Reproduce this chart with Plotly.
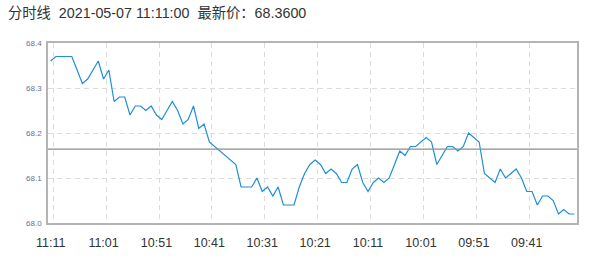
import plotly.graph_objects as go

title_text = "分时线  2021-05-07 11:11:00  最新价：68.3600"

prices = [
    68.36, 68.37, 68.37, 68.37, 68.37, 68.34, 68.31, 68.32, 68.34, 68.36,
    68.32, 68.34, 68.27, 68.28, 68.28, 68.24, 68.26, 68.26, 68.25, 68.26,
    68.24, 68.23, 68.25, 68.27, 68.25, 68.22, 68.23, 68.26, 68.21, 68.22,
    68.18, 68.17, 68.16, 68.15, 68.14, 68.13, 68.08, 68.08, 68.08, 68.10,
    68.07, 68.08, 68.06, 68.08, 68.04, 68.04, 68.04, 68.08, 68.11, 68.13,
    68.14, 68.13, 68.11, 68.12, 68.11, 68.09, 68.09, 68.12, 68.13, 68.09,
    68.07, 68.09, 68.10, 68.09, 68.10, 68.13, 68.16, 68.15, 68.17, 68.17,
    68.18, 68.19, 68.18, 68.13, 68.15, 68.17, 68.17, 68.16, 68.17, 68.20,
    68.19, 68.18, 68.11, 68.10, 68.09, 68.12, 68.10, 68.11, 68.12, 68.10,
    68.07, 68.07, 68.04, 68.06, 68.06, 68.05, 68.02, 68.03, 68.02, 68.02,
]
avg_price = 68.164

tick_labels = ["11:11", "11:01", "10:51", "10:41", "10:31",
               "10:21", "10:11", "10:01", "09:51", "09:41"]
y_ticks = [68.0, 68.1, 68.2, 68.3, 68.4]

n = len(prices)
idx = list(range(n))
label_pos = [i * 10 for i in range(len(tick_labels))]
grid_pos = [p + 0.5 for p in label_pos]

fig = go.Figure()
fig.add_trace(go.Scatter(
    x=idx, y=prices, mode="lines",
    line=dict(color="#1f8fd8", width=1.2),
    hoverinfo="skip", showlegend=False,
))

fig.add_shape(type="line", xref="paper", x0=0, x1=1, yref="y",
              y0=avg_price, y1=avg_price,
              line=dict(color="#8c8c8c", width=1.2))

fig.update_layout(
    width=591, height=262,
    margin=dict(l=48, r=12, t=43, b=32),
    paper_bgcolor="white", plot_bgcolor="white",
    font=dict(family="Liberation Sans, Arial, Noto Sans CJK SC", color="#333333"),
    title=dict(text=title_text, x=8 / 591, xref="container", xanchor="left",
               y=1, yref="container", yanchor="top",
               pad=dict(l=0, t=8),
               font=dict(size=14.3, color="#333333",
                         family="Liberation Sans, Arial, Noto Sans CJK SC")),
    xaxis=dict(
        range=[-0.5, n - 0.5],
        tickmode="array", tickvals=label_pos, ticktext=tick_labels,
        showgrid=False, zeroline=False,
        ticks="outside", ticklen=7, tickcolor="rgba(0,0,0,0)",
        tickfont=dict(size=12.5, color="#333333"),
        showline=True, linecolor="#b4b4b4", linewidth=1.5, mirror=True,
        minor=dict(tickmode="array", tickvals=grid_pos, showgrid=True,
                   gridcolor="#dcdcdc", griddash="5px,4px", gridwidth=1,
                   ticks=""),
    ),
    yaxis=dict(
        range=[68.0, 68.4],
        tickmode="array", tickvals=y_ticks, tickformat=".1f",
        showgrid=True, gridcolor="#dcdcdc", griddash="5px,4px", gridwidth=1,
        zeroline=False,
        tickfont=dict(size=8, color="#6c6c9c"),
        ticks="outside", ticklen=3, tickcolor="rgba(0,0,0,0)",
        showline=True, linecolor="#b4b4b4", linewidth=1.5, mirror=True,
    ),
)

fig.write_html("out.html")
